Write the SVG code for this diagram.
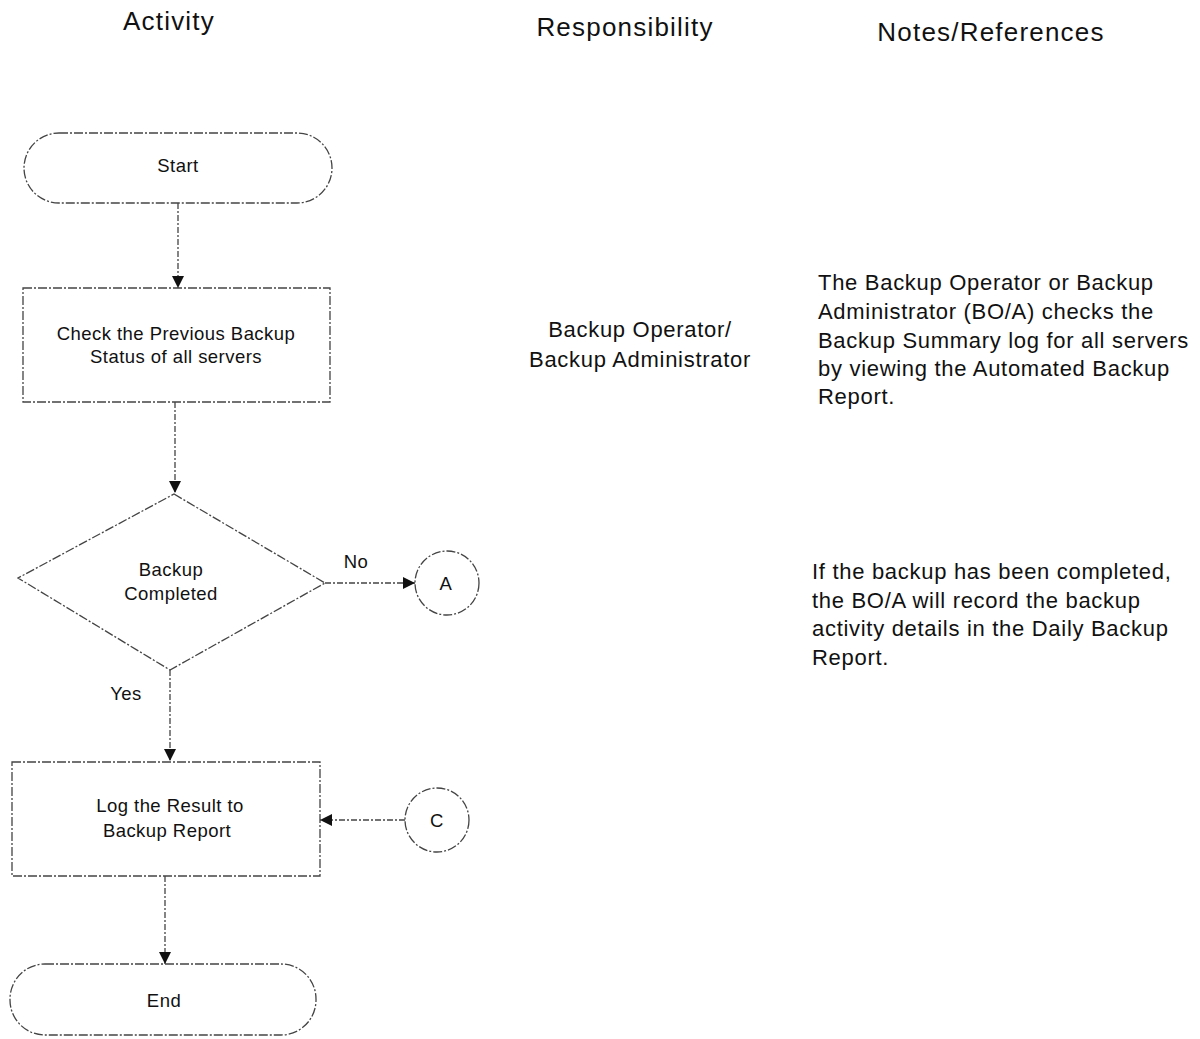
<svg xmlns="http://www.w3.org/2000/svg" width="1200" height="1039" viewBox="0 0 1200 1039">
<defs>
<style>
text{font-family:"Liberation Sans",Arial,sans-serif;fill:#111}
.hdr{font-size:26px;text-anchor:middle;letter-spacing:1.2px}
.lbl{font-size:18.5px;text-anchor:middle;letter-spacing:0.45px}
.note{font-size:22px;letter-spacing:0.7px}
.shape{fill:none;stroke:#444;stroke-width:1.3;stroke-dasharray:9 2 2 2}
.conn{fill:none;stroke:#444;stroke-width:1.3;stroke-dasharray:6 2 2 2}
</style>
<marker id="arr" viewBox="0 0 12 12" refX="12" refY="6" markerWidth="12" markerHeight="12" markerUnits="userSpaceOnUse" orient="auto">
<path d="M0,0 L12,6 L0,12 z" fill="#111"/>
</marker>
</defs>
<rect width="1200" height="1039" fill="#fff"/>
<g id="headers">
<text class="hdr" x="169" y="30">Activity</text>
<text class="hdr" x="625" y="36">Responsibility</text>
<text class="hdr" x="991" y="41">Notes/References</text>
</g>
<g id="connectors">
<line class="conn" x1="178" y1="203" x2="178" y2="288" marker-end="url(#arr)"/>
<line class="conn" x1="175" y1="402" x2="175" y2="493" marker-end="url(#arr)"/>
<line class="conn" x1="325" y1="583" x2="415" y2="583" marker-end="url(#arr)"/>
<line class="conn" x1="170" y1="670" x2="170" y2="761" marker-end="url(#arr)"/>
<line class="conn" x1="405" y1="820" x2="320" y2="820" marker-end="url(#arr)"/>
<line class="conn" x1="165" y1="876" x2="165" y2="964" marker-end="url(#arr)"/>
<text class="lbl" x="356" y="568">No</text>
<text class="lbl" x="126" y="700">Yes</text>
</g>
<g id="start">
<rect class="shape" x="24" y="133" width="308" height="70" rx="35"/>
<text class="lbl" x="178" y="172">Start</text>
</g>
<g id="check">
<rect class="shape" x="23" y="288" width="307" height="114"/>
<text class="lbl" x="176" y="340">Check the Previous Backup</text>
<text class="lbl" x="176" y="363">Status of all servers</text>
</g>
<g id="decision">
<polygon class="shape" points="174,494 325,583 170,670 18,578"/>
<text class="lbl" x="171" y="576">Backup</text>
<text class="lbl" x="171" y="600">Completed</text>
</g>
<g id="connA">
<circle class="shape" cx="447" cy="583" r="32"/>
<text class="lbl" x="446" y="590">A</text>
</g>
<g id="log">
<rect class="shape" x="12" y="762" width="308" height="114"/>
<text class="lbl" x="170" y="812">Log the Result to</text>
<text class="lbl" x="167" y="837">Backup Report</text>
</g>
<g id="connC">
<circle class="shape" cx="437" cy="820" r="32"/>
<text class="lbl" x="437" y="827">C</text>
</g>
<g id="end">
<rect class="shape" x="10" y="964" width="306" height="71" rx="35"/>
<text class="lbl" x="164" y="1007">End</text>
</g>
<g id="responsibility">
<text class="note" x="640" y="337" text-anchor="middle">Backup Operator/</text>
<text class="note" x="640" y="367" text-anchor="middle">Backup Administrator</text>
</g>
<g id="note1">
<text class="note" x="818" y="290">The Backup Operator or Backup</text>
<text class="note" x="818" y="319">Administrator (BO/A) checks the</text>
<text class="note" x="818" y="348">Backup Summary log for all servers</text>
<text class="note" x="818" y="376">by viewing the Automated Backup</text>
<text class="note" x="818" y="404">Report.</text>
</g>
<g id="note2">
<text class="note" x="812" y="579">If the backup has been completed,</text>
<text class="note" x="812" y="608">the BO/A will record the backup</text>
<text class="note" x="812" y="636">activity details in the Daily Backup</text>
<text class="note" x="812" y="665">Report.</text>
</g>
</svg>
